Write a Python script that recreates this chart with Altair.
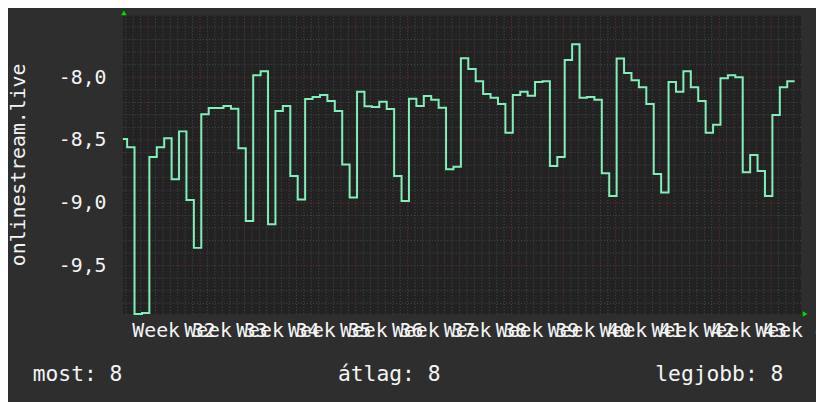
import altair as alt
import pandas as pd
import numpy as np

# ---- data ----
VALUES = [
    -8.492, -8.557, -9.885, -9.877, -8.636, -8.557, -8.486, -8.812, -8.431, -8.978,
    -9.359, -8.294, -8.244, -8.244, -8.229, -8.250, -8.565, -9.144, -7.984, -7.953,
    -9.170, -8.268, -8.229, -8.786, -8.973, -8.173, -8.158, -8.142, -8.189, -8.268,
    -8.694, -8.957, -8.116, -8.231, -8.237, -8.195, -8.252, -8.786, -8.986, -8.171,
    -8.229, -8.150, -8.179, -8.242, -8.733, -8.712, -7.848, -7.934, -8.032, -8.134,
    -8.163, -8.213, -8.442, -8.142, -8.116, -8.147, -8.037, -8.032, -8.707, -8.636,
    -7.863, -7.737, -8.163, -8.158, -8.179, -8.765, -8.946, -7.850, -7.966, -8.024,
    -8.079, -8.213, -8.770, -8.917, -8.037, -8.116, -7.953, -8.079, -8.189, -8.442,
    -8.379, -8.008, -7.984, -8.000, -8.757, -8.620, -8.747, -8.946, -8.300, -8.079,
    -8.032,
]
WEEK_NUMBERS = list(range(32, 45))
Y_TICKS = [-8.0, -8.5, -9.0, -9.5]
Y_TITLE = "onlinestream.live"
FOOTER = ["most: 8", "átlag: 8", "legjobb: 8"]

FIRST_STEP = 0.574   # day at which the first full daily step begins
FIRST_WEEK = 3.40    # day of the first week boundary
X_MAX = 91.45        # days shown
Y_MIN, Y_MAX = -9.885, -7.511

FONT = "DejaVu Sans Mono"
TXT = "#f4f4f4"
LINE = "#80f0b8"
MINOR = "#4a4a4a"
MAJOR = "#6e3434"
ARROW = "#00dd00"

# ---- derived tables ----
xs = [0.0] + [FIRST_STEP + i for i in range(len(VALUES) - 1)]
xs.append(FIRST_STEP + len(VALUES) - 1)
line_df = pd.DataFrame({"x": xs, "v": VALUES + [VALUES[-1]]})

week_lines = [FIRST_WEEK + 7 * k for k in range(len(WEEK_NUMBERS)) if FIRST_WEEK + 7 * k < X_MAX]
day_lines = [FIRST_WEEK + k for k in range(-3, 90)
             if 0 < FIRST_WEEK + k < X_MAX - 0.2 and k % 7 != 0]
minor_y = [v for v in np.round(np.arange(-9.8, -7.55, 0.1), 1) if abs(v * 2 - round(v * 2)) > 1e-6]

labels_df = pd.DataFrame({
    "x": [FIRST_WEEK + 3.5 + 7 * k for k in range(len(WEEK_NUMBERS))],
    "label": [f"Week {n}" for n in WEEK_NUMBERS],
})

xscale = alt.Scale(domain=[0, X_MAX], nice=False, zero=False)
yscale = alt.Scale(domain=[Y_MIN, Y_MAX], nice=False, zero=False)

YAXIS = alt.Axis(
    values=Y_TICKS,
    labelExpr="'-' + replace(format(abs(datum.value), '.1f'), '.', ',')",
    grid=False, ticks=False, domain=False,
    labelFont=FONT, labelFontSize=20, labelColor=TXT, labelPadding=17,
    title=Y_TITLE, titleFont=FONT, titleFontSize=20, titleFontWeight="normal",
    titleColor=TXT, titleAngle=270, titleX=-99, titleY=150,
    titleAlign="center", titleBaseline="alphabetic",
)

vminor = alt.Chart(pd.DataFrame({"x": day_lines})).mark_rule(
    color=MINOR, strokeDash=[1, 2], strokeWidth=1
).encode(x=alt.X("x:Q", scale=xscale, axis=None))
hminor = alt.Chart(pd.DataFrame({"v": minor_y})).mark_rule(
    color=MINOR, strokeDash=[1, 2], strokeWidth=1
).encode(y=alt.Y("v:Q", scale=yscale, axis=YAXIS))
vmajor = alt.Chart(pd.DataFrame({"x": week_lines})).mark_rule(
    color=MAJOR, strokeDash=[1, 2], strokeWidth=1
).encode(x=alt.X("x:Q", scale=xscale, axis=None))
hmajor = alt.Chart(pd.DataFrame({"v": Y_TICKS})).mark_rule(
    color=MAJOR, strokeDash=[1, 2], strokeWidth=1
).encode(y=alt.Y("v:Q", scale=yscale, axis=YAXIS))

line = alt.Chart(line_df).mark_line(
    color=LINE, strokeWidth=2, interpolate="step-after"
).encode(
    x=alt.X("x:Q", scale=xscale, axis=None),
    y=alt.Y("v:Q", scale=yscale, axis=YAXIS),
)

week_text = alt.Chart(labels_df).mark_text(
    font=FONT, fontSize=20, color=TXT, align="center", baseline="alphabetic"
).encode(
    x=alt.X("x:Q", scale=xscale, axis=None),
    y=alt.value(324),
    text="label:N",
)

def footer(text, xpos, align):
    return alt.Chart(pd.DataFrame({"t": [text]})).mark_text(
        font=FONT, fontSize=21.5, color=TXT, align=align, baseline="alphabetic"
    ).encode(text="t:N", x=alt.value(xpos), y=alt.value(369))

f1 = footer(FOOTER[0], -91, "left")
f2 = footer(FOOTER[1], 269, "center")
f3 = footer(FOOTER[2], 667, "right")

arrow_up = alt.Chart(pd.DataFrame({"a": [0]})).mark_point(
    shape="triangle-up", filled=True, size=30, color=ARROW, opacity=1
).encode(x=alt.value(1), y=alt.value(-3))
arrow_right = alt.Chart(pd.DataFrame({"a": [0]})).mark_point(
    shape="triangle-right", filled=True, size=30, color=ARROW, opacity=1
).encode(x=alt.value(689), y=alt.value(301))

chart = alt.layer(
    vminor, hminor, vmajor, hmajor, line, week_text, f1, f2, f3, arrow_up, arrow_right
).properties(
    width=685, height=301,
    autosize=alt.AutoSizeParams(type="none"),
    padding={"left": 116, "top": 6, "right": 15, "bottom": 87},
    background="#2e2e2e",
).configure_view(
    fill="#222222", stroke=None
)

chart.save("out.html", embed_options={"renderer": "svg", "actions": False})
